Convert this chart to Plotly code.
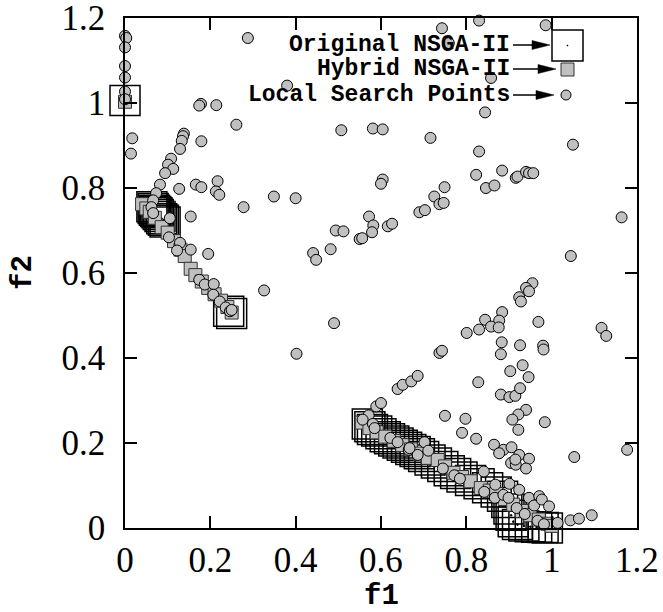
import plotly.graph_objects as go

# ---------------- data ----------------
local_x = [0, 0.003, 0, 0, 0, 0, 0, 0.017, 0.014,
           0.288, 0.380, 0.178, 0.174, 0.214, 0.261, 0.507, 0.581, 0.604,
           0.138, 0.136, 0.133, 0.129, 0.179,
           0.108, 0.101, 0.113, 0.094,
           0.082, 0.127, 0.166, 0.179, 0.217, 0.213, 0.221,
           0.604, 0.600,
           0.349, 0.400, 0.154, 0.278, 0.195, 0.154, 0.326,
           0.743, 0.830, 0.986, 0.759, 0.858,
           0.844, 0.716, 0.830, 1.050, 0.823, 0.884, 0.846, 0.866, 0.916, 0.920, 0.940, 0.947, 0.957, 0.749, 1.164, 1.045,
           0.725, 0.737, 0.747, 0.690, 0.703,
           0.572, 0.582, 0.579, 0.616, 0.626, 0.550, 0.556, 0.494, 0.512, 0.482, 0.441, 0.448,
           0.490, 0.402,
           0.955, 0.940, 0.947, 0.924, 0.928,
           0.884, 0.844, 0.877, 0.858, 0.876, 0.830, 0.801, 0.969, 1.117, 1.128,
           0.737, 0.743, 0.883, 0.881, 0.926, 0.980, 0.981,
           0.639, 0.651, 0.671, 0.686, 0.589, 0.600,
           0.828, 0.903, 0.932, 0.946, 0.881, 0.901, 0.915, 0.926,
           0.750, 0.798, 0.790, 0.823, 0.940, 0.922, 0.908, 0.922, 0.984,
           0.865, 0.887, 0.877, 0.906, 0.924, 0.947, 0.905, 0.916, 0.940, 0.915, 1.053, 1.177, 0.841,
           0.571, 0.557, 0.581, 0.585, 0.622, 0.639, 0.665, 0.686, 0.702, 0.711, 0.667,
           0.745, 0.772, 0.785,
           0.842, 0.868, 0.867, 0.887, 0.901, 0.924, 0.899, 0.918, 0.947, 0.971, 0.959, 0.977, 0.994,
           0.937, 0.967, 0.982, 1.014, 1.044, 1.064, 1.094,
           0.073, 0.066, 0.062, 0.066, 0.105, 0.103, 0.129, 0.122, 0.174, 0.187, 0.208, 0.207,
           0.222, 0.236, 0.246, 0.250]
local_y = [1.158, 1.153, 1.131, 1.087, 1.060, 1.027, 1.009, 0.917, 0.881,
           1.153, 1.041, 0.998, 0.994, 0.995, 0.949, 0.936, 0.940, 0.938,
           0.928, 0.922, 0.911, 0.892, 0.910,
           0.869, 0.855, 0.845, 0.835,
           0.808, 0.798, 0.808, 0.802, 0.816, 0.792, 0.784,
           0.820, 0.810,
           0.780, 0.776, 0.733, 0.755, 0.645, 0.655, 0.559,
           1.176, 1.194, 1.183, 1.141, 1.059,
           0.978, 0.918, 0.886, 0.902, 0.831, 0.841, 0.800, 0.806, 0.824, 0.827, 0.838, 0.835, 0.835, 0.802, 0.731, 0.640,
           0.780, 0.762, 0.765, 0.743, 0.748,
           0.733, 0.712, 0.696, 0.710, 0.716, 0.680, 0.682, 0.700, 0.698, 0.656, 0.647, 0.631,
           0.482, 0.410,
           0.576, 0.565, 0.557, 0.543, 0.533,
           0.508, 0.490, 0.488, 0.474, 0.472, 0.467, 0.459, 0.485, 0.471, 0.452,
           0.412, 0.417, 0.437, 0.409, 0.430, 0.429, 0.420,
           0.327, 0.337, 0.345, 0.358, 0.286, 0.294,
           0.343, 0.369, 0.383, 0.355, 0.314, 0.308, 0.311, 0.329,
           0.264, 0.257, 0.224, 0.210, 0.278, 0.267, 0.255, 0.231, 0.249,
           0.196, 0.184, 0.176, 0.190, 0.172, 0.163, 0.153, 0.149, 0.140, 0.161, 0.167, 0.184, 0.133,
           0.265, 0.255, 0.245, 0.235, 0.212, 0.202, 0.184, 0.172, 0.202, 0.182, 0.188,
           0.140, 0.124, 0.116,
           0.085, 0.102, 0.071, 0.078, 0.104, 0.090, 0.071, 0.047, 0.071, 0.075, 0.053, 0.067, 0.051,
           0.033, 0.017, 0.009, 0.012, 0.018, 0.022, 0.030,
           0.788, 0.771, 0.755, 0.741, 0.729, 0.684, 0.671, 0.653, 0.584, 0.573, 0.574, 0.549,
           0.533, 0.519, 0.510, 0.513]

hybrid_x = [0.0, 0.040, 0.050, 0.058, 0.070, 0.086, 0.100, 0.115, 0.130, 0.140, 0.154, 0.165,
            0.180, 0.195, 0.210, 0.225, 0.240, 0.250,
            0.555, 0.573, 0.590, 0.610, 0.630, 0.650, 0.670, 0.690, 0.710, 0.733, 0.750,
            0.770, 0.790, 0.810, 0.834, 0.855, 0.870, 0.890, 0.910, 0.930, 0.950, 0.970, 0.990, 1.000]
hybrid_y = [1.003, 0.762, 0.752, 0.744, 0.730, 0.708, 0.695, 0.675, 0.655, 0.640, 0.610, 0.595,
            0.580, 0.565, 0.550, 0.535, 0.520, 0.507,
            0.248, 0.235, 0.225, 0.215, 0.205, 0.195, 0.185, 0.175, 0.165, 0.160, 0.145,
            0.130, 0.120, 0.110, 0.094, 0.088, 0.080, 0.068, 0.055, 0.040, 0.030, 0.020, 0.010, 0.005]

orig_x = [0.0,
          0.063, 0.066, 0.069, 0.072, 0.075, 0.078, 0.082, 0.086, 0.090, 0.094,
          0.243, 0.250,
          0.568, 0.574, 0.580, 0.590, 0.600, 0.610, 0.620, 0.630, 0.640, 0.650, 0.660, 0.670,
          0.680, 0.690, 0.700, 0.715, 0.730, 0.745, 0.760, 0.775, 0.790, 0.810, 0.830, 0.850,
          0.870, 0.885, 0.895, 0.900, 0.905, 0.910, 0.920, 0.935, 0.950, 0.965, 0.980, 0.990]
orig_y = [1.006,
          0.756, 0.752, 0.748, 0.745, 0.742, 0.738, 0.733, 0.728, 0.724, 0.720,
          0.510, 0.505,
          0.245, 0.238, 0.232, 0.228, 0.222, 0.215, 0.210, 0.205, 0.200, 0.195, 0.190, 0.185,
          0.180, 0.175, 0.168, 0.160, 0.153, 0.145, 0.135, 0.128, 0.120, 0.112, 0.104, 0.095,
          0.085, 0.075, 0.060, 0.045, 0.030, 0.015, 0.008, 0.005, 0.003, 0.002, 0.001, 0.000]

tick_vals = [0, 0.2, 0.4, 0.6, 0.8, 1.0, 1.2]
tick_text = ["0", "0.2", "0.4", "0.6", "0.8", "1", "1.2"]
legend_labels = ["Original NSGA-II", "Hybrid NSGA-II", "Local Search Points"]
x_title = "f1"
y_title = "f2"

GREY = "#c0c0c0"

# ---------------- figure ----------------
fig = go.Figure()
fig.add_trace(go.Scatter(x=orig_x, y=orig_y, mode="markers", cliponaxis=False,
                         marker=dict(symbol="square-open-dot", size=30, color="black",
                                     line=dict(width=1.5, color="black")),
                         showlegend=False))
fig.add_trace(go.Scatter(x=hybrid_x, y=hybrid_y, mode="markers", cliponaxis=False,
                         marker=dict(symbol="square", size=13, color=GREY,
                                     line=dict(width=1, color="#333333")),
                         showlegend=False))
fig.add_trace(go.Scatter(x=local_x, y=local_y, mode="markers", cliponaxis=False,
                         marker=dict(symbol="circle", size=11, color=GREY,
                                     line=dict(width=1, color="black")),
                         showlegend=False))

W, H = 663, 612
L, R, T, B = 125, 637, 18, 528
PW, PH = R - L, B - T


def px(xp):
    return (xp - L) / PW


def py(yp):
    return (B - yp) / PH


tick_font = dict(family="Liberation Serif, Times New Roman, serif", size=35, color="black")
mono = "Liberation Mono, Courier New, monospace"

axis_common = dict(range=[0, 1.2001], tickvals=tick_vals, ticktext=tick_text,
                   ticks="inside", ticklen=12, tickwidth=1.5, tickcolor="black",
                   showline=True, linecolor="black", linewidth=1.5, mirror="ticks",
                   showgrid=False, zeroline=False, tickfont=tick_font,
                   ticklabeloverflow="allow")

fig.update_layout(
    width=W, height=H,
    margin=dict(l=L, r=W - R, t=T, b=H - B, autoexpand=False),
    plot_bgcolor="white", paper_bgcolor="white",
    xaxis=dict(**axis_common, ticklabelstandoff=0),
    yaxis=dict(**axis_common, ticklabelstandoff=11),
)

annotations = [
    dict(text="<b>%s</b>" % x_title, xref="paper", yref="paper", x=px(381), y=py(596),
         xanchor="center", yanchor="middle", showarrow=False,
         font=dict(family=mono, size=29, color="black")),
    dict(text="<b>%s</b>" % y_title, xref="paper", yref="paper", x=px(23), y=py(273),
         xanchor="center", yanchor="middle", showarrow=False, textangle=-90,
         font=dict(family=mono, size=29, color="black")),
]

# ---------------- custom legend (text, arrow, symbol) ----------------
legend_rows = [45, 69, 95]
arrow_tips = [550, 556, 554]
head_len = [18, 18, 18]
shapes = []
for label, yrow, tip, hl in zip(legend_labels, legend_rows, arrow_tips, head_len):
    annotations.append(dict(text="<b>%s</b>" % label, xref="paper", yref="paper",
                            x=px(512), y=py(yrow), xanchor="right", yanchor="middle",
                            showarrow=False,
                            font=dict(family=mono, size=23, color="black")))
    shapes.append(dict(type="line", xref="paper", yref="paper",
                       x0=px(513), x1=px(tip - hl + 2), y0=py(yrow), y1=py(yrow),
                       line=dict(color="black", width=1.5)))
    shapes.append(dict(type="path", xref="paper", yref="paper",
                       path="M %f,%f L %f,%f L %f,%f Z" % (
                           px(tip - hl), py(yrow - 4.5), px(tip), py(yrow),
                           px(tip - hl), py(yrow + 4.5)),
                       fillcolor="black", line=dict(color="black", width=0.5)))

# legend symbols
shapes.append(dict(type="rect", xref="paper", yref="paper",
                   x0=px(552), x1=px(583), y0=py(61), y1=py(30),
                   line=dict(color="black", width=1.5), fillcolor="white"))
shapes.append(dict(type="rect", xref="paper", yref="paper",
                   x0=px(567), x1=px(568), y0=py(46), y1=py(45),
                   line=dict(color="black", width=0.5), fillcolor="black"))
shapes.append(dict(type="rect", xref="paper", yref="paper",
                   x0=px(561), x1=px(574), y0=py(76), y1=py(63),
                   line=dict(color="#333333", width=1), fillcolor=GREY))
shapes.append(dict(type="circle", xref="paper", yref="paper",
                   x0=px(561), x1=px(571), y0=py(100), y1=py(90),
                   line=dict(color="black", width=1), fillcolor=GREY))

fig.update_layout(shapes=shapes, annotations=annotations)

fig.write_html("out.html")
